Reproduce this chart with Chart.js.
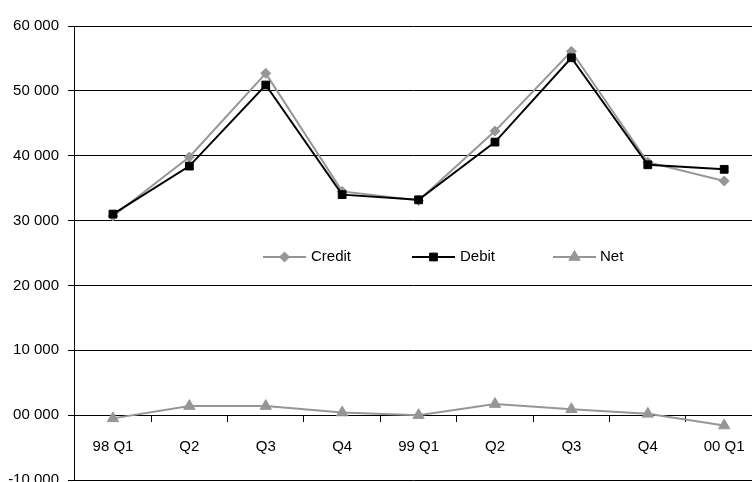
<!DOCTYPE html>
<html>
<head>
<meta charset="utf-8">
<script src="https://cdn.jsdelivr.net/npm/chart.js@4.4.0/dist/chart.umd.min.js"></script>
<style>
  html, body { margin: 0; padding: 0; background: #fff; overflow: hidden; }
</style>
</head>
<body>
<canvas id="myChart" width="752" height="482"></canvas>
<script>
// data
const quarters = ['98 Q1', 'Q2', 'Q3', 'Q4', '99 Q1', 'Q2', 'Q3', 'Q4', '00 Q1'];
const credit = [30700, 39800, 52700, 34500, 33100, 43800, 56100, 39000, 36100];
const debit = [31000, 38400, 50900, 34000, 33200, 42100, 55100, 38600, 37900];
const net = [-500, 1400, 1400, 400, 0, 1700, 900, 200, -1600];

const yTickValues = [-10000, 0, 10000, 20000, 30000, 40000, 50000, 60000];
const yTickLabels = ['-10 000', '00 000', '10 000', '20 000', '30 000', '40 000', '50 000', '60 000'];

const grey = '#969696';
const font = { family: "'Liberation Sans', Arial, sans-serif", size: 15 };

// x ticks: labels on the quarters, small tick marks between them
let xTickValues = [];
for (let i = 0; i < quarters.length; i++) {
  xTickValues.push(i);
  if (i < quarters.length - 1) xTickValues.push(i + 0.5);
}

const toPoints = arr => arr.map((v, i) => ({ x: i, y: v }));

// legend sits inside the plot, in the middle
const legendInside = {
  id: 'legendInside',
  afterDatasetsDraw(chart) {
    const c = chart.ctx;
    const y = 257;
    const spots = [
      { x: 263, textX: 311 },
      { x: 412, textX: 460 },
      { x: 553, textX: 600 }
    ];
    c.save();
    chart.data.datasets.forEach((ds, i) => {
      const s = spots[i];
      c.strokeStyle = ds.borderColor;
      c.lineWidth = ds.borderWidth;
      c.beginPath();
      c.moveTo(s.x, y);
      c.lineTo(s.x + 43, y);
      c.stroke();
      c.fillStyle = ds.backgroundColor;
      c.lineWidth = 1;
      Chart.helpers.drawPoint(c, { pointStyle: ds.pointStyle, radius: ds.pointRadius, rotation: 0, borderWidth: 1 }, s.x + 21.5, y);
      c.fillStyle = '#000';
      c.font = font.size + 'px ' + font.family;
      c.textAlign = 'left';
      c.textBaseline = 'middle';
      c.fillText(ds.label, s.textX, y);
    });
    c.restore();
  }
};

const ctx = document.getElementById('myChart').getContext('2d');

window.myChart = new Chart(ctx, {
  type: 'line',
  data: {
    datasets: [{
      label: 'Credit',
      data: toPoints(credit),
      borderColor: grey,
      backgroundColor: grey,
      borderWidth: 2,
      pointStyle: 'rectRot',
      pointRadius: 5,
      pointBorderWidth: 1,
      order: 2
    }, {
      label: 'Debit',
      data: toPoints(debit),
      borderColor: '#000',
      backgroundColor: '#000',
      borderWidth: 2,
      pointStyle: 'rect',
      pointRadius: 5.5,
      pointBorderWidth: 1,
      order: 1
    }, {
      label: 'Net',
      data: toPoints(net),
      borderColor: grey,
      backgroundColor: grey,
      borderWidth: 2,
      pointStyle: 'triangle',
      pointRadius: 6.5,
      pointBorderWidth: 1,
      order: 0
    }]
  },
  options: {
    responsive: false,
    animation: false,
    layout: { autoPadding: false, padding: { top: 26, right: 0, bottom: 2, left: 0 } },
    plugins: {
      legend: { display: false },
      tooltip: { enabled: false }
    },
    scales: {
      x: {
        type: 'linear',
        position: { y: 0 },
        // the plot runs on past the right edge of the picture
        min: -0.51,
        max: 8.364,
        afterBuildTicks: scale => { scale.ticks = xTickValues.map(v => ({ value: v })); },
        afterFit: scale => { scale.paddingLeft = 0; scale.paddingRight = 0; },
        ticks: {
          autoSkip: false,
          maxRotation: 0,
          padding: 17,
          color: '#000',
          font: font,
          callback: v => Number.isInteger(v) ? quarters[v] : ''
        },
        grid: {
          drawOnChartArea: false,
          drawTicks: true,
          tickLength: 6,
          lineWidth: 1,
          color: c => (c.tick && !Number.isInteger(c.tick.value)) ? '#000' : 'rgba(0,0,0,0)'
        },
        border: { display: true, color: '#000', width: 1 }
      },
      y: {
        min: -10000,
        max: 60000,
        afterBuildTicks: scale => { scale.ticks = yTickValues.map(v => ({ value: v })); },
        afterFit: scale => { scale.width = 74; scale.paddingTop = 0; scale.paddingBottom = 0; },
        ticks: {
          padding: 9,
          color: '#000',
          font: font,
          callback: (v, i) => yTickLabels[i]
        },
        grid: { color: '#000', lineWidth: 1, drawTicks: true, tickLength: 6 },
        border: { display: true, color: '#000', width: 1 }
      }
    }
  },
  plugins: [legendInside]
});
</script>
</body>
</html>
